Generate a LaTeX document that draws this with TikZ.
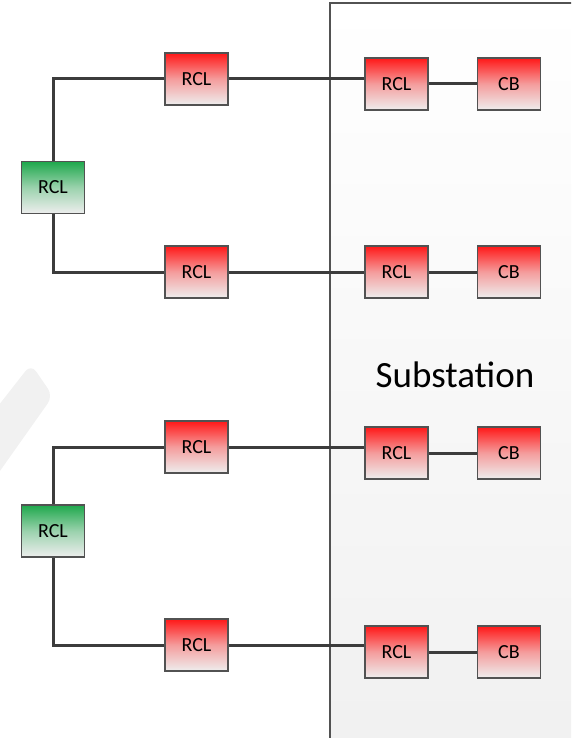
\documentclass[tikz,border=0pt]{standalone}
\usepackage{fontspec}
\setmainfont{Carlito}

\definecolor{rclred}{RGB}{255,24,24}
\definecolor{rclgreen}{RGB}{30,168,76}
\definecolor{boxgray}{RGB}{238,238,238}
\definecolor{edgegray}{RGB}{82,82,82}
\definecolor{wiregray}{RGB}{60,60,60}
\definecolor{markgray}{RGB}{241,241,241}

\tikzset{
  unit/.style={draw=edgegray, line width=1.8pt, minimum width=63pt, minimum height=52pt,
    inner sep=0pt, font=\fontsize{20}{24}\selectfont},
  redbox/.style={unit, top color=rclred, bottom color=boxgray, middle color=rclred!38!boxgray},
  greenbox/.style={unit, top color=rclgreen, bottom color=boxgray, middle color=rclgreen!40!boxgray},
  wire/.style={draw=wiregray, line width=3pt}
}

\begin{document}
\begin{tikzpicture}[x=1pt, y=-1pt]
\clip (0,0) rectangle (571,738);

% Substation area and faint mark
\shade[top color=white, bottom color=boxgray!85] (330,3) rectangle (580,750);
\draw[edgegray, line width=1.4pt] (580,3) -- (330,3) -- (330,750);
\fill[markgray, rounded corners=9pt] (-5,410) -- (31,364) -- (53,396) -- (-5,478) -- cycle;
\node[font=\fontsize{37}{44}\selectfont] (subst) at (455,375) {Substation};

% Feeder side
\node[greenbox] (g1) at (53,187.5) {RCL};
\node[greenbox] (g2) at (53,531) {RCL};
\node[redbox] (m1) at (196.5,79) {RCL};
\node[redbox] (m2) at (196.5,272) {RCL};
\node[redbox] (m3) at (196.5,447) {RCL};
\node[redbox] (m4) at (196.5,645) {RCL};

% Substation side
\node[redbox] (s1) at (396.5,84) {RCL};
\node[redbox] (s2) at (396.5,272) {RCL};
\node[redbox] (s3) at (396.5,453) {RCL};
\node[redbox] (s4) at (396.5,652) {RCL};
\node[redbox] (c1) at (509,84) {CB};
\node[redbox] (c2) at (509,272) {CB};
\node[redbox] (c3) at (509,453) {CB};
\node[redbox] (c4) at (509,652) {CB};

% Wiring
\draw[wire] (g1.north) |- (m1.west);
\draw[wire] (g1.south) |- (m2.west);
\draw[wire] (g2.north) |- (m3.west);
\draw[wire] (g2.south) |- (m4.west);
\foreach \i in {1,...,4} {
  \draw[wire] (m\i.east) -- (m\i.east -| s\i.west);
  \draw[wire] (s\i.east) -- (c\i.west);
}
\end{tikzpicture}
\end{document}
